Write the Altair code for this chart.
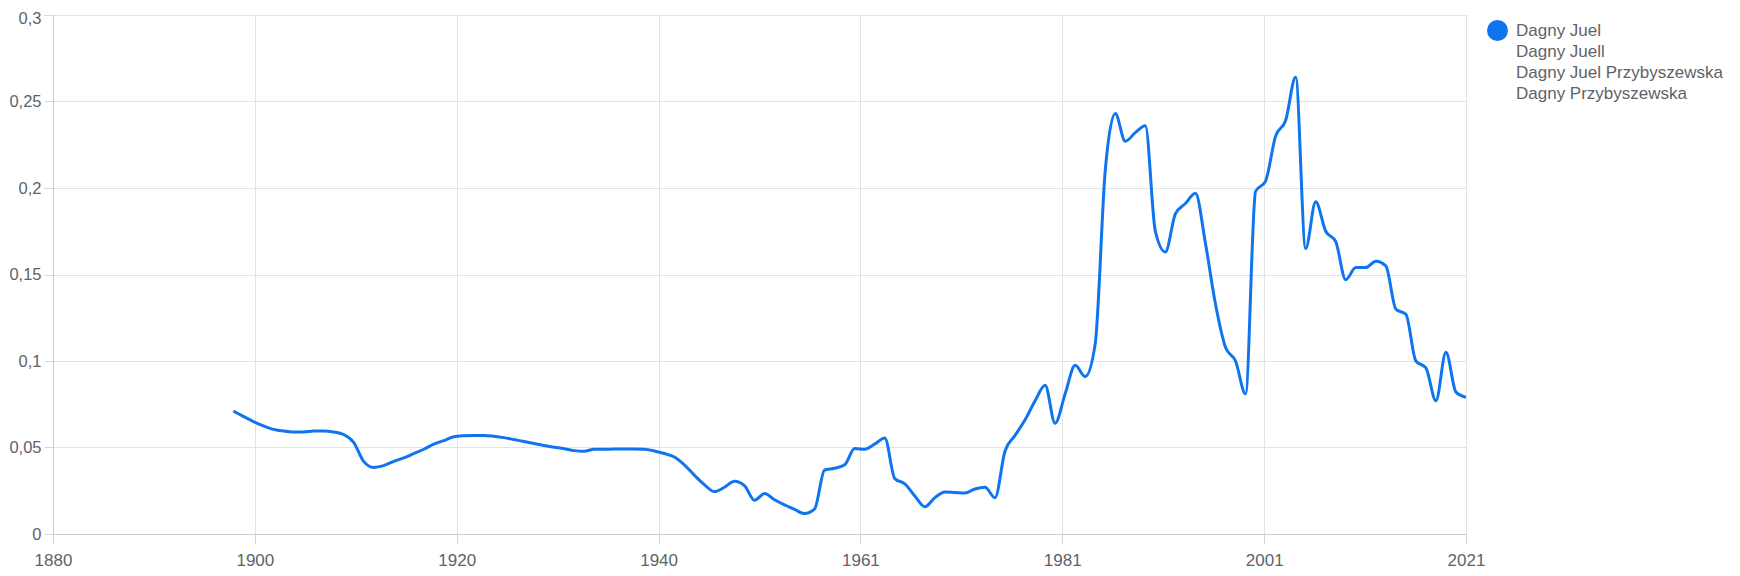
import altair as alt
import pandas as pd

# ---- data ----
series_names = ["Dagny Juel", "Dagny Juell", "Dagny Juel Przybyszewska", "Dagny Przybyszewska"]

years = list(range(1898, 2022))
values = [
    0.071, 0.068, 0.065, 0.0625, 0.0605, 0.0595, 0.059, 0.059, 0.0595, 0.0596,   # 1898-1907
    0.059, 0.0575, 0.053, 0.042, 0.0385, 0.0395, 0.042, 0.044, 0.0465, 0.049,     # 1908-1917
    0.052, 0.054, 0.0562, 0.0568, 0.057, 0.057, 0.0565, 0.0557, 0.0546, 0.0535,   # 1918-1927
    0.0523, 0.0512, 0.0502, 0.0493, 0.0482, 0.0478, 0.049, 0.049, 0.0491, 0.0491, # 1928-1937
    0.0491, 0.049, 0.048, 0.0465, 0.0445, 0.040, 0.034, 0.0285, 0.0245, 0.027,    # 1938-1947
    0.0305, 0.028, 0.0195, 0.0234, 0.0198, 0.0168, 0.0142, 0.0118, 0.0145, 0.037, # 1948-1957
    0.038, 0.040, 0.0494, 0.049, 0.052, 0.0555, 0.032, 0.029, 0.022, 0.0157,      # 1958-1967
    0.021, 0.0243, 0.024, 0.0237, 0.026, 0.027, 0.021, 0.048, 0.057, 0.066,       # 1968-1977
    0.077, 0.086, 0.064, 0.081, 0.0975, 0.091, 0.11, 0.21, 0.243, 0.227,          # 1978-1987
    0.232, 0.236, 0.175, 0.163, 0.185, 0.191, 0.197, 0.168, 0.133, 0.108,         # 1988-1997
    0.100, 0.081, 0.198, 0.204, 0.230, 0.239, 0.264, 0.165, 0.192, 0.175,         # 1998-2007
    0.169, 0.147, 0.154, 0.154, 0.1577, 0.155, 0.130, 0.127, 0.100, 0.096,        # 2008-2017
    0.077, 0.105, 0.082, 0.079,                                                   # 2018-2021
]

x_tick_labels = [1880, 1900, 1920, 1940, 1961, 1981, 2001, 2021]
x_tick_values = [1880.0, 1900.14, 1920.29, 1940.43, 1960.57, 1980.71, 2000.86, 2021.0]
y_tick_values = [0, 0.05, 0.1, 0.15, 0.2, 0.25, 0.3]

series_colors = ["#0f74ee", "#ffffff", "#ffffff", "#ffffff"]

df = pd.DataFrame({"year": years, "value": values, "name": series_names[0]})

FONT = "Liberation Sans"
TEXT = "#5f6368"
FS = 17

x_enc = alt.X(
    "year:Q",
    scale=alt.Scale(domain=[1880, 2021], nice=False, zero=False),
    axis=alt.Axis(
        values=x_tick_values, format="d", title=None, grid=True,
        gridColor="#e3e3e3", domainColor="#cccccc", tickColor="#d6d6d6",
        tickSize=10, labelPadding=8, labelFontSize=FS, labelColor=TEXT,
        labelFont=FONT, labelFlush=False,
    ),
)
y_enc = alt.Y(
    "value:Q",
    scale=alt.Scale(domain=[0, 0.3], nice=False),
    axis=alt.Axis(
        values=y_tick_values, title=None, grid=True,
        labelExpr="replace(format(datum.value, '.2~f'), '.', ',')",
        labelOffset={"condition": {"test": "datum.value >= 0.3", "value": 3}, "value": 0},
        gridColor="#e3e3e3", domainColor="#cccccc", tickColor="#d6d6d6",
        tickSize=9, labelPadding=3, labelFontSize=16.5, labelColor=TEXT,
        labelFont=FONT, labelFlush=False,
    ),
)

line = alt.Chart(df).mark_line(
    interpolate="monotone", strokeWidth=3, color=series_colors[0]
).encode(x=x_enc, y=y_enc)

legend_layer = alt.Chart(df).transform_filter("false").mark_point(
    filled=True, opacity=1
).encode(
    x=alt.X("year:Q"),
    y=alt.Y("value:Q"),
    color=alt.Color(
        "name:N",
        scale=alt.Scale(domain=series_names, range=series_colors),
        legend=alt.Legend(
            title=None, orient="none", legendX=1434, legendY=5,
            symbolType="circle", symbolSize=441, symbolStrokeWidth=0,
            symbolOpacity=1, rowPadding=0, padding=0, labelOffset=8,
            labelFontSize=FS, labelColor=TEXT, labelFont=FONT,
            labelLimit=400,
        ),
    ),
)

chart = alt.layer(line, legend_layer).properties(
    width=1413,
    height=519,
    padding={"left": 45, "top": 7, "right": 266, "bottom": 34},
    autosize=alt.AutoSizeParams(type="none"),
).configure_view(stroke=None).configure(font=FONT)

chart.save("out.html", embed_options={"renderer": "svg", "actions": False})
